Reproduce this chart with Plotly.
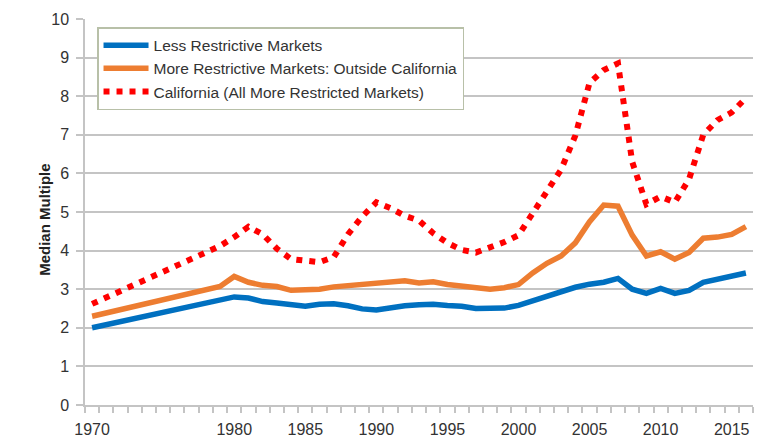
import plotly.graph_objects as go

years = list(range(1970, 2017))
N = None
less_restrictive = [2.00, N, N, N, N, N, N, N, N, 2.74,
                    2.80, 2.77, 2.68, 2.64, 2.61, 2.56, 2.61, 2.62, 2.57, 2.49,
                    2.46, 2.53, 2.57, 2.60, 2.61, 2.58, 2.56, 2.50, 2.50, 2.51,
                    2.58, 2.70, 2.84, 2.94, 3.05, 3.13, 3.18, 3.28, 3.00, 2.89,
                    3.02, 2.89, 2.97, 3.18, 3.25, 3.32, 3.42]
more_restrictive = [2.30, N, N, N, N, N, N, N, N, 3.07,
                    3.33, 3.18, 3.10, 3.07, 2.97, 2.97, 3.00, 3.06, 3.09, 3.10,
                    3.15, 3.18, 3.22, 3.16, 3.19, 3.12, 3.07, 3.02, 3.00, 3.04,
                    3.12, 3.42, 3.67, 3.86, 4.20, 4.75, 5.18, 5.15, 4.40, 3.86,
                    3.97, 3.78, 3.95, 4.32, 4.35, 4.42, 4.62]
california = [2.62, N, N, N, N, N, N, N, N, 4.12,
              4.35, 4.62, 4.42, 4.05, 3.78, 3.74, 3.70, 3.83, 4.42, 4.88,
              5.25, 5.10, 4.90, 4.78, 4.45, 4.20, 4.02, 3.95, 4.08, 4.22,
              4.40, 4.95, 5.52, 6.10, 6.98, 8.35, 8.68, 8.85, 6.30, 5.20,
              5.40, 5.25, 5.85, 7.00, 7.38, 7.58, 7.95]

names = ["Less Restrictive Markets",
         "More Restrictive Markets: Outside California",
         "California (All More Restricted Markets)"]
x_tick_vals = [1970, 1980, 1985, 1990, 1995, 2000, 2005, 2010, 2015]
y_tick_vals = list(range(0, 11))

FONT = "Liberation Sans, Arial, sans-serif"
GRID = "#c4c4c4"

fig = go.Figure()
fig.add_trace(go.Scatter(x=years, y=less_restrictive, name=names[0], mode="lines",
                         connectgaps=True, line=dict(color="#0070C0", width=5.5)))
fig.add_trace(go.Scatter(x=years, y=more_restrictive, name=names[1], mode="lines",
                         connectgaps=True, line=dict(color="#ED7D31", width=5.5)))
fig.add_trace(go.Scatter(x=years, y=california, name=names[2], mode="lines",
                         connectgaps=True,
                         line=dict(color="#FF0000", width=6, dash="6px,7px")))

fig.update_layout(
    width=772, height=442,
    margin=dict(l=77, r=27, t=11, b=45),
    paper_bgcolor="white", plot_bgcolor="white",
    font=dict(family=FONT, size=16, color="#333333"),
    showlegend=True,
    legend=dict(x=0.018, y=0.979, xanchor="left", yanchor="top",
                bgcolor="white", bordercolor="#b8c0a8", borderwidth=1.5,
                font=dict(family=FONT, size=15.5, color="#333333"),
                itemwidth=45, tracegroupgap=0,
                entrywidth=360, entrywidthmode="pixels"),
    xaxis=dict(range=[1969.5, 2016.5], tickmode="array", tickvals=x_tick_vals,
               ticktext=[str(v) for v in x_tick_vals], ticks="", automargin=False,
               showgrid=False, zeroline=False, ticklabelstandoff=9,
               showline=True, linecolor=GRID, linewidth=1.5,
               minor=dict(ticks="outside", tick0=1969.5, dtick=1, ticklen=6,
                          tickcolor=GRID, tickwidth=1.5, showgrid=False),
               tickfont=dict(size=16, color="#333333")),
    yaxis=dict(range=[0, 10.0], tickmode="array", tickvals=y_tick_vals,
               ticks="outside", ticklen=7, tickcolor=GRID, tickwidth=1.5, automargin=False,
               showgrid=True, gridcolor=GRID, gridwidth=1.5, ticklabelstandoff=4,
               zeroline=False, showline=True, linecolor=GRID, linewidth=1.5,
               tickfont=dict(size=16, color="#333333")),
    annotations=[dict(text="<b>Median Multiple</b>", textangle=-90,
                      xref="paper", yref="paper", x=-0.06, y=0.482,
                      xanchor="center", yanchor="middle",
                      showarrow=False, font=dict(family=FONT, size=15, color="#222222"))],
)

fig.write_html("out.html")
